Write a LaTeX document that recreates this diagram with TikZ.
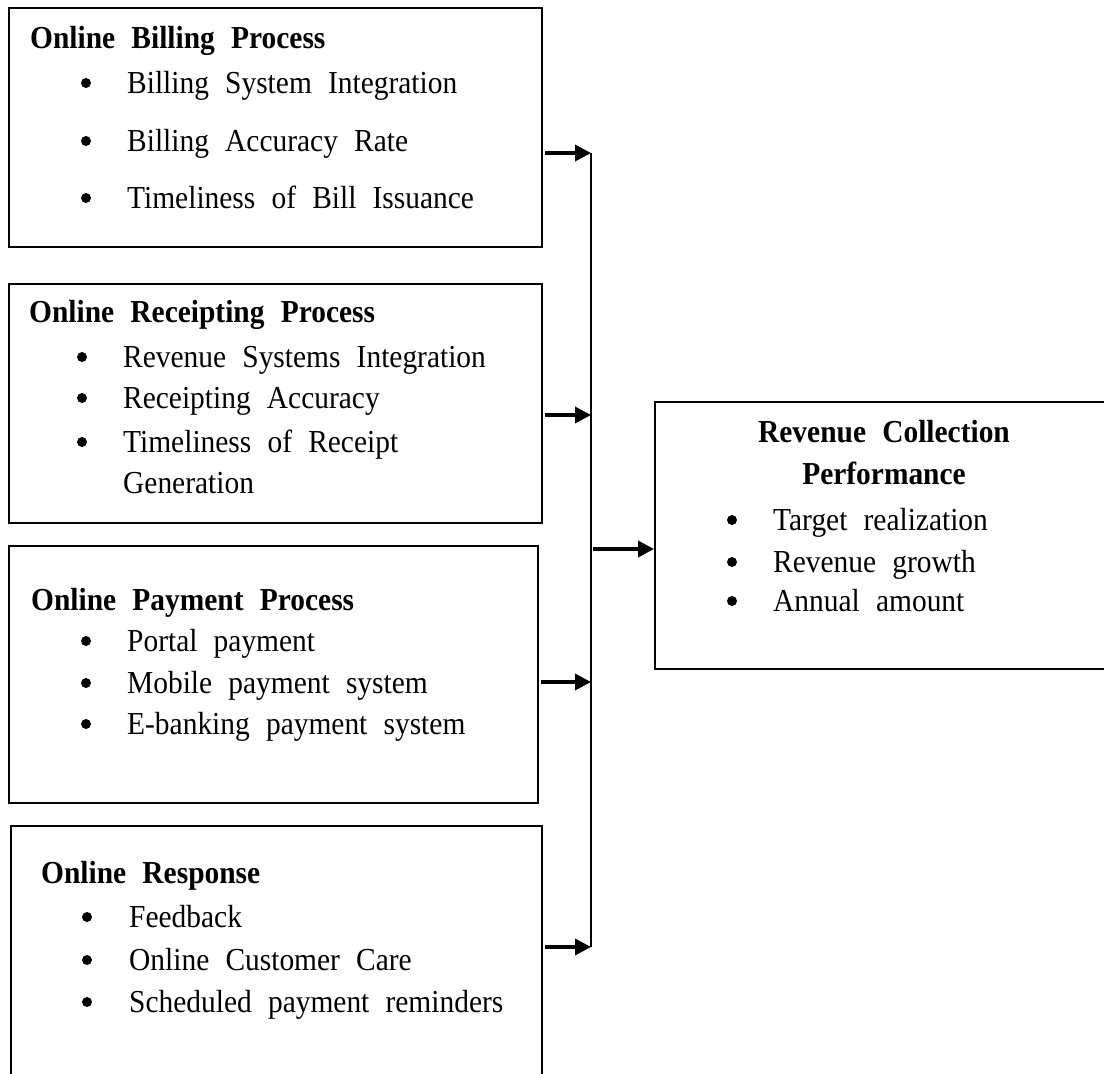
\documentclass[tikz,border=0pt]{standalone}
\usepackage{fontspec}
\setmainfont{Liberation Serif}[FakeStretch=0.92, WordSpace=2.2]
\usetikzlibrary{arrows.meta}
\begin{document}
\begin{tikzpicture}[x=1pt, y=-1pt,
  panel/.style={draw, line width=2.2pt, anchor=north west, inner sep=0pt},
  head/.style={anchor=base west, inner sep=0pt, font=\fontsize{32}{38}\selectfont\bfseries},
  chead/.style={anchor=base, inner sep=0pt, font=\fontsize{32}{38}\selectfont\bfseries},
  item/.style={anchor=base west, inner sep=0pt, font=\fontsize{32}{38}\selectfont},
  dot/.style={circle, fill, inner sep=0pt, minimum size=10pt},
  feed/.style={line width=3.5pt, -{Triangle[length=16pt, width=16pt]}, shorten <=2pt},
  trunk/.style={line width=2pt}]
\useasboundingbox (0,0) rectangle (1104,1074);
\clip (0,0) rectangle (1104,1074);

% ---- frames ----
\node[panel, minimum width=533pt, minimum height=239pt] (billing)    at (8,7)    {};
\node[panel, minimum width=533pt, minimum height=239pt] (receipting) at (8,283)  {};
\node[panel, minimum width=529pt, minimum height=257pt] (payment)    at (8,545)  {};
\node[panel, minimum width=531pt, minimum height=300pt] (response)   at (10,825) {};
\node[panel, minimum width=500pt, minimum height=267pt] (revenue)    at (654,401) {};

% ---- Online Billing Process ----
\node[head] (billingT) at (30,48) {Online Billing Process};
\foreach \y/\t [count=\i] in {93/Billing System Integration,
                              151/Billing Accuracy Rate,
                              208/Timeliness of Bill Issuance} {
  \node[dot]  (billingD\i) at (86,\y-10) {};
  \node[item] (billingI\i) at (127,\y) {\t};
}

% ---- Online Receipting Process ----
\node[head] (receiptingT) at (29,322) {Online Receipting Process};
\foreach \y/\t [count=\i] in {367/Revenue Systems Integration,
                              408/Receipting Accuracy,
                              452/Timeliness of Receipt} {
  \node[dot]  (receiptingD\i) at (82,\y-10) {};
  \node[item] (receiptingI\i) at (123,\y) {\t};
}
\node[item] (receiptingI4) at (123,493) {Generation};

% ---- Online Payment Process ----
\node[head] (paymentT) at (31,610) {Online Payment Process};
\foreach \y/\t [count=\i] in {651/Portal payment,
                              693/Mobile payment system,
                              734/E-banking payment system} {
  \node[dot]  (paymentD\i) at (86,\y-10) {};
  \node[item] (paymentI\i) at (127,\y) {\t};
}

% ---- Online Response ----
\node[head] (responseT) at (41,883) {Online Response};
\foreach \y/\t [count=\i] in {927/Feedback,
                              970/Online Customer Care,
                              1012/Scheduled payment reminders} {
  \node[dot]  (responseD\i) at (87,\y-10) {};
  \node[item] (responseI\i) at (129,\y) {\t};
}

% ---- Revenue Collection Performance ----
\node[chead] (revenueT1) at (884,442) {Revenue Collection};
\node[chead] (revenueT2) at (884,484) {Performance};
\foreach \y/\t [count=\i] in {530/Target realization,
                              572/Revenue growth,
                              611/Annual amount} {
  \node[dot]  (revenueD\i) at (732,\y-10) {};
  \node[item] (revenueI\i) at (773,\y) {\t};
}

% ---- connectors ----
\coordinate (j1) at (591,153);
\coordinate (j2) at (591,415);
\coordinate (j3) at (591,682);
\coordinate (j4) at (591,947);
\coordinate (jr) at (591,549);

\draw[trunk] (j1) -- (j4);
\draw[feed] (billing.east    |- j1) -- (j1);
\draw[feed] (receipting.east |- j2) -- (j2);
\draw[feed] (payment.east    |- j3) -- (j3);
\draw[feed] (response.east   |- j4) -- (j4);
\draw[feed] (jr) -- (revenue.west |- jr);
\end{tikzpicture}
\end{document}
